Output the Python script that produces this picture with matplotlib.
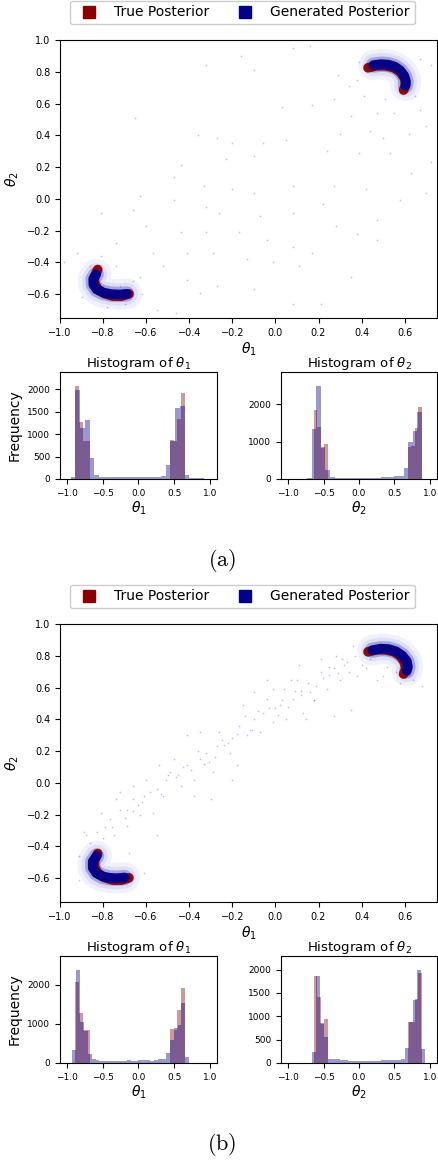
import numpy as np
import matplotlib
matplotlib.use('Agg')
import matplotlib.pyplot as plt
from matplotlib.lines import Line2D

W, H = 439, 1160

# ---------------- scatter data ----------------
# sparse generated samples, panel (a)
gen_a_x = [-0.16, 0.08, 0.16, -0.32, -0.10, 0.29, 0.34, 0.27, 0.17, 0.03, 0.47, 0.55, 0.67, 0.70,
           0.35, 0.30, 0.44, 0.62, 0.50, -0.27, -0.36, -0.65, -0.20, -0.06, 0.05, 0.24, 0.39, 0.53,
           0.72, 0.63, -0.10, -0.23, -0.44, -0.47, -0.33, -0.20, -0.10, 0.08, 0.27, 0.42, 0.22, 0.58,
           0.70, -0.63, -0.47, -0.32, -0.26, -0.07, 0.08, 0.28, 0.47, 0.38, 0.47, -0.66, -0.81, -0.60,
           -0.44, -0.32, -0.17, -0.04, 0.08, 0.17, 0.35, -0.74, -0.57, -0.41, -0.29, -0.13, -0.01, 0.11,
           -0.52, -0.41, -0.27, -0.10, 0.08, 0.21, -0.35, -0.46, -0.55, -0.72, -0.63, -0.98, -0.74, -0.81,
           -0.92, 0.38, 0.41, 0.51, 0.65, 0.72, 0.67, 0.39, -0.70, -0.66, -0.90, -0.62, -0.78, -0.86]
gen_a_y = [0.90, 0.95, 0.96, 0.84, 0.81, 0.78, 0.71, 0.63, 0.59, 0.58, 0.54, 0.54, 0.56, 0.46,
           0.52, 0.41, 0.43, 0.41, 0.38, 0.38, 0.40, 0.51, 0.35, 0.35, 0.37, 0.30, 0.29, 0.29,
           0.23, 0.16, 0.27, 0.25, 0.21, 0.14, 0.08, 0.06, 0.04, 0.08, 0.08, 0.06, -0.03, -0.01,
           0.04, 0.02, -0.01, -0.05, -0.09, -0.11, -0.09, -0.17, -0.13, -0.22, -0.26, -0.07, -0.09, -0.17,
           -0.21, -0.21, -0.21, -0.26, -0.30, -0.34, -0.49, -0.28, -0.34, -0.34, -0.34, -0.38, -0.40, -0.42,
           -0.42, -0.51, -0.55, -0.57, -0.66, -0.66, -0.59, -0.72, -0.70, -0.55, -0.49, -0.40, -0.42, -0.36,
           -0.34, 0.75, 0.65, 0.63, 0.65, 0.84, 0.88, 0.86, -0.66, -0.52, -0.62, -0.60, -0.68, -0.42]

# sparse generated samples, panel (b)
gen_b_x = [-0.91, -0.88, -0.83, -0.77, -0.72, -0.81, -0.69, -0.64, -0.66, -0.61, -0.57, -0.55, -0.51,
           -0.49, -0.44, -0.41, -0.38, -0.35, -0.32, -0.29, -0.27, -0.26, -0.21, -0.20, -0.17, -0.15,
           -0.13, -0.10, -0.07, -0.06, -0.04, -0.01, 0.02, 0.04, 0.05, 0.08, 0.10, 0.13, 0.16, 0.19,
           0.21, 0.24, 0.27, 0.30, 0.33, 0.35, 0.38, 0.41, 0.42, 0.47, 0.50, 0.58, 0.64, 0.68, 0.27,
           0.14, -0.20, -0.18, -0.30, -0.38, -0.55, -0.66, -0.72, -0.75, -0.81, -0.68, -0.61, -0.91,
           -0.89, -0.41, -0.35, -0.47, -0.54, -0.60, -0.69, -0.74, -0.10, -0.01, 0.11, 0.21, 0.28, 0.36,
           0.07, -0.04, -0.52, -0.45, -0.33, -0.24, -0.12, 0.00, 0.12, 0.25, 0.32, -0.63, -0.79, 0.18,
           -0.86, -0.80, -0.76, -0.70, -0.66, -0.62, -0.58, -0.53, -0.50, -0.46, -0.43, -0.39, -0.36,
           -0.31, -0.28, -0.25, -0.22, -0.18, -0.14, -0.11, -0.08, -0.03, 0.01, 0.03, 0.06, 0.09, 0.12,
           0.15, 0.18, 0.22, 0.25, 0.29, 0.31, 0.34, 0.37, 0.40, 0.44, 0.52, 0.56, 0.62]
gen_b_y = [-0.46, -0.33, -0.31, -0.23, -0.17, -0.19, -0.27, -0.14, -0.02, -0.08, -0.19, -0.04, 0.02,
           0.07, -0.02, 0.11, 0.02, 0.15, 0.19, 0.07, 0.23, 0.32, 0.19, 0.28, 0.36, 0.49,
           0.30, 0.40, 0.32, 0.44, 0.53, 0.38, 0.49, 0.59, 0.40, 0.53, 0.65, 0.44, 0.57, 0.61,
           0.70, 0.59, 0.72, 0.65, 0.76, 0.46, 0.67, 0.82, 0.72, 0.65, 0.67, 0.63, 0.65, 0.61, 0.42,
           0.40, 0.02, 0.11, -0.10, -0.08, -0.33, -0.10, -0.06, -0.33, -0.46, -0.44, -0.57, -0.61,
           -0.31, 0.30, 0.32, 0.15, 0.11, 0.02, -0.17, -0.10, 0.57, 0.59, 0.74, 0.78, 0.80, 0.86,
           0.65, 0.65, -0.08, 0.05, 0.12, 0.24, 0.33, 0.47, 0.58, 0.68, 0.74, -0.20, -0.28, 0.52,
           -0.38, -0.35, -0.28, -0.22, -0.18, -0.12, -0.06, -0.07, 0.05, 0.04, 0.10, 0.08, 0.20,
           0.13, 0.16, 0.27, 0.25, 0.31, 0.42, 0.33, 0.45, 0.47, 0.43, 0.52, 0.48, 0.58, 0.55,
           0.63, 0.52, 0.66, 0.73, 0.69, 0.78, 0.70, 0.80, 0.74, 0.78, 0.73, 0.70, 0.68]

# crescent ridges (dense part of each posterior)
true_hi_x = [0.430, 0.470, 0.510, 0.550, 0.580, 0.600, 0.605, 0.595]
true_hi_y = [0.825, 0.838, 0.838, 0.826, 0.798, 0.758, 0.718, 0.685]
true_lo_x = [-0.825, -0.840, -0.840, -0.825, -0.795, -0.755, -0.715, -0.680]
true_lo_y = [-0.445, -0.490, -0.530, -0.568, -0.595, -0.612, -0.612, -0.598]

gen_a_hi_x = [0.455, 0.490, 0.525, 0.555, 0.580, 0.598, 0.606, 0.603]
gen_a_hi_y = [0.842, 0.848, 0.845, 0.832, 0.808, 0.775, 0.740, 0.712]
gen_a_lo_x = [-0.832, -0.846, -0.845, -0.830, -0.800, -0.760, -0.720, -0.690]
gen_a_lo_y = [-0.475, -0.505, -0.540, -0.570, -0.590, -0.600, -0.602, -0.598]

gen_b_hi_x = [0.450, 0.490, 0.525, 0.560, 0.590, 0.610, 0.615, 0.610]
gen_b_hi_y = [0.835, 0.845, 0.842, 0.828, 0.800, 0.765, 0.730, 0.705]
gen_b_lo_x = [-0.830, -0.848, -0.848, -0.832, -0.805, -0.770, -0.735, -0.700]
gen_b_lo_y = [-0.460, -0.495, -0.535, -0.568, -0.588, -0.598, -0.600, -0.596]

# ---------------- histogram data ----------------
# true posterior (same in both panels): 30 bins
red_t1_start, red_t1_w = -0.883, 0.051
red_t1 = [2070, 1270, 840, 840, 0, 0, 0, 0, 0, 0, 0, 0, 0, 0, 0,
          0, 0, 0, 0, 0, 0, 0, 0, 0, 0, 0, 880, 850, 1350, 1920]
red_t2_start, red_t2_w = -0.640, 0.051
red_t2 = [1856, 1407, 830, 941, 0, 0, 0, 0, 0, 0, 0, 0, 0, 0, 0,
          0, 0, 0, 0, 0, 0, 0, 0, 0, 0, 0, 870, 880, 1364, 1930]

# generated posterior, panel (a)
blue_a_t1_start, blue_a_t1_w = -0.950, 0.0665
blue_a_t1 = [50, 1980, 1150, 1310, 470, 80, 50, 40, 40, 40, 35, 35, 40, 40, 35,
             40, 45, 50, 50, 60, 310, 840, 1590, 1640, 80, 30, 20, 15, 10, 5]
blue_a_t2_start, blue_a_t2_w = -0.992, 0.0648
blue_a_t2 = [0, 5, 5, 10, 20, 1345, 2490, 850, 242, 50, 40, 40, 40, 40, 40,
             40, 40, 35, 30, 40, 45, 50, 60, 70, 85, 288, 995, 1290, 1785, 10]

# generated posterior, panel (b)
blue_b_t1_start, blue_b_t1_w = -0.930, 0.0547
blue_b_t1 = [333, 2380, 1045, 820, 230, 95, 70, 45, 40, 40, 40, 40, 40, 50, 70,
             50, 40, 80, 80, 80, 55, 70, 90, 100, 248, 590, 896, 973, 1528, 150]
blue_b_t2_start, blue_b_t2_w = -0.725, 0.0573
blue_b_t2 = [5, 243, 1870, 855, 550, 90, 80, 80, 60, 60, 50, 50, 40, 40, 40,
             45, 45, 50, 55, 55, 60, 65, 70, 75, 314, 870, 1355, 1990, 300, 0]

RED = '#8b0000'
BLUE = '#00008b'


def rect(x0, y0, x1, y1):
    return [x0 / W, 1 - y1 / H, (x1 - x0) / W, (y1 - y0) / H]


def crescent(ax, x, y, color, halo=True):
    if halo:
        ax.plot(x, y, color='#4040d0', lw=22, alpha=0.07, solid_capstyle='round', zorder=2)
        ax.plot(x, y, color='#4040d0', lw=16, alpha=0.10, solid_capstyle='round', zorder=2)
        ax.plot(x, y, color='#2020b0', lw=11, alpha=0.30, solid_capstyle='round', zorder=2)
    ax.plot(x, y, color=color, lw=7, alpha=0.95, solid_capstyle='round', zorder=3)


def hist_bars(ax, start, w, heights, color):
    edges = start + w * np.arange(len(heights))
    ax.bar(edges, heights, width=w, align='edge', color=color, alpha=0.4, linewidth=0)


def panel(fig, top, gx, gy, ghi, glo, blues, ylims, yticks, tag):
    # legend
    handles = [Line2D([], [], marker='s', ls='', color=RED, markersize=8.5),
               Line2D([], [], marker='s', ls='', color=BLUE, markersize=8.5)]
    fig.legend(handles, ['True Posterior', 'Generated Posterior'], loc='center',
               bbox_to_anchor=(242.5 / W, 1 - (top + 12.5) / H), ncol=2, fontsize=10,
               handletextpad=0.8, columnspacing=1.6, borderpad=0.35, framealpha=1)

    ax = fig.add_axes(rect(60, top + 40, 437, top + 318))
    ax.scatter(gx, gy, s=1.5, color='#2a2acc', alpha=0.3, linewidths=0, zorder=1)
    crescent(ax, true_hi_x, true_hi_y, RED, halo=False)
    crescent(ax, true_lo_x, true_lo_y, RED, halo=False)
    crescent(ax, ghi[0], ghi[1], BLUE)
    crescent(ax, glo[0], glo[1], BLUE)
    ax.set_xlim(-1.0, 0.75)
    ax.set_ylim(-0.75, 1.0)
    ax.set_xticks(np.round(np.arange(-1.0, 0.61, 0.2), 1))
    ax.set_yticks(np.round(np.arange(-0.6, 1.01, 0.2), 1))
    ax.tick_params(labelsize=7)
    ax.set_xlabel(r'$\theta_1$', fontsize=10, labelpad=2)
    ax.set_ylabel(r'$\theta_2$', fontsize=10)

    for i, (x0, x1) in enumerate([(60, 217), (281, 437)]):
        hx = fig.add_axes(rect(x0, top + 372, x1, top + 479))
        if i == 0:
            hist_bars(hx, red_t1_start, red_t1_w, red_t1, RED)
        else:
            hist_bars(hx, red_t2_start, red_t2_w, red_t2, RED)
        hist_bars(hx, blues[i][0], blues[i][1], blues[i][2], BLUE)
        hx.set_xlim(-1.1, 1.1)
        hx.set_ylim(0, ylims[i])
        hx.set_xticks([-1.0, -0.5, 0.0, 0.5, 1.0])
        hx.set_yticks(yticks[i])
        hx.tick_params(labelsize=6.5)
        lab = r'$\theta_%d$' % (i + 1)
        hx.set_title('Histogram of ' + lab, fontsize=9.5, pad=3)
        hx.set_xlabel(lab, fontsize=10, labelpad=1)
        if i == 0:
            hx.set_ylabel('Frequency', fontsize=10)

    fig.text(222 / W, 1 - (top + 560) / H, r'$\mathrm{(%s)}$' % tag, ha='center', va='center',
             fontsize=16, math_fontfamily='cm')


fig = plt.figure(figsize=(W / 100, H / 100), dpi=100)

panel(fig, 0, gen_a_x, gen_a_y, (gen_a_hi_x, gen_a_hi_y), (gen_a_lo_x, gen_a_lo_y),
      [(blue_a_t1_start, blue_a_t1_w, blue_a_t1), (blue_a_t2_start, blue_a_t2_w, blue_a_t2)],
      [2390, 2870], [[0, 500, 1000, 1500, 2000], [0, 1000, 2000]], 'a')
panel(fig, 584, gen_b_x, gen_b_y, (gen_b_hi_x, gen_b_hi_y), (gen_b_lo_x, gen_b_lo_y),
      [(blue_b_t1_start, blue_b_t1_w, blue_b_t1), (blue_b_t2_start, blue_b_t2_w, blue_b_t2)],
      [2740, 2290], [[0, 1000, 2000], [0, 500, 1000, 1500, 2000]], 'b')

fig.savefig('out.png', dpi=100)
